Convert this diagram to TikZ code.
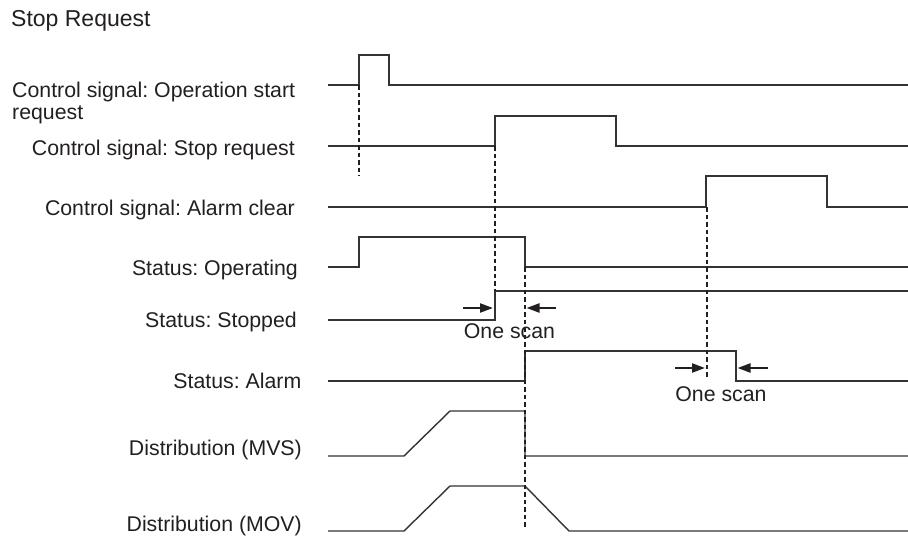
\documentclass[tikz,border=0pt]{standalone}
\usepackage{fontspec}
\setmainfont{Liberation Sans}
\usetikzlibrary{arrows.meta}
\definecolor{ink}{HTML}{231F20}
\definecolor{wire}{HTML}{333333}
\begin{document}
\frenchspacing
\begin{tikzpicture}[x=1pt,y=-1pt,
  lbl/.style={inner sep=0pt,text=ink,font=\fontsize{21.3}{21.5}\selectfont},
  sig/.style={draw=wire,line width=1.4pt,line join=miter},
  guide/.style={draw=ink,line width=1.2pt,dash pattern=on 4.5pt off 3pt},
  scanarrow/.style={draw=ink,line width=2.2pt,-{Triangle[length=13pt,width=9pt]}}]
\useasboundingbox (0,0) rectangle (908,538);

% title
\node[lbl,anchor=base west,font=\fontsize{23}{23}\selectfont] (title) at (11,26) {Stop Request};

% labels
\node[lbl,anchor=base west,align=left] (l1) at (12,119) {Control signal: Operation start\\request};
\node[lbl,anchor=base east] (l2) at (295,155) {Control signal: Stop request};
\node[lbl,anchor=base east] (l3) at (295,215) {Control signal: Alarm clear};
\node[lbl,anchor=base east] (l4) at (298,275) {Status: Operating};
\node[lbl,anchor=base east] (l5) at (297,327.5) {Status: Stopped};
\node[lbl,anchor=base east] (l6) at (301.5,388) {Status: Alarm};
\node[lbl,anchor=base east] (l7) at (302,455) {Distribution (MVS)};
\node[lbl,anchor=base east] (l8) at (302,531) {Distribution (MOV)};

% waveforms
\draw[sig] (328,85) -- (359,85) -- (359,55) -- (389,55) -- (389,85) -- (908,85);
\draw[sig] (328,146) -- (495,146) -- (495,116) -- (616,116) -- (616,146) -- (908,146);
\draw[sig] (328,207) -- (706,207) -- (706,176) -- (827,176) -- (827,207) -- (908,207);
\draw[sig] (328,267) -- (359,267) -- (359,237) -- (525,237) -- (525,267) -- (908,267);
\draw[sig] (328,320) -- (495,320) -- (495,291) -- (908,291);
\draw[sig] (328,381) -- (525,381) -- (525,351) -- (736,351) -- (736,381) -- (908,381);
\draw[sig] (328,456) -- (404,456) -- (450,411) -- (525,411) -- (525,456) -- (908,456);
\draw[sig] (328,531) -- (404,531) -- (450,486) -- (525,486) -- (569,531) -- (908,531);

% guide lines
\draw[guide] (359,85) -- (359,176);
\draw[guide] (495,146) -- (495,291);
\draw[guide] (525,267) -- (525,528);
\draw[guide] (707,207) -- (707,379);

% one scan markers
\coordinate (a1s) at (463,308); \coordinate (a1e) at (493,308);
\coordinate (b1s) at (556,308); \coordinate (b1e) at (526.5,308);
\draw[scanarrow] (a1s) -- (a1e);
\draw[scanarrow] (b1s) -- (b1e);
\node[lbl,anchor=base] (s1) at (509.5,338.5) {One scan};

\coordinate (a2s) at (675,368); \coordinate (a2e) at (705,368);
\coordinate (b2s) at (768,368); \coordinate (b2e) at (737.5,368);
\draw[scanarrow] (a2s) -- (a2e);
\draw[scanarrow] (b2s) -- (b2e);
\node[lbl,anchor=base] (s2) at (721,401) {One scan};
\end{tikzpicture}
\end{document}
